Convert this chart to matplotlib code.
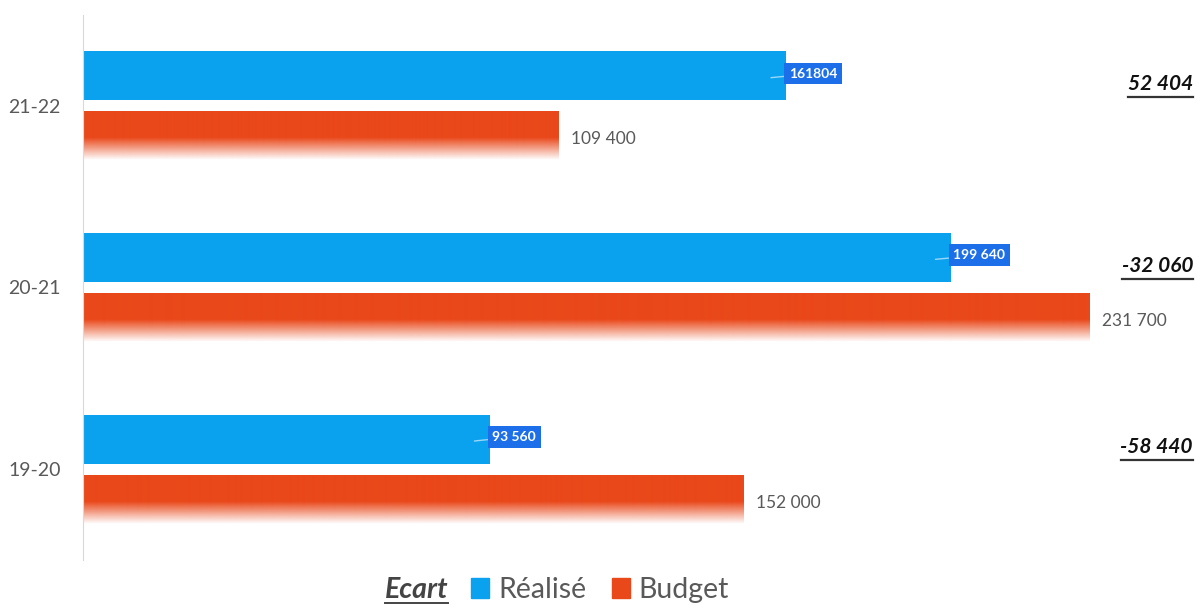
import numpy as np
import matplotlib.pyplot as plt
from matplotlib.patches import Patch
from matplotlib.lines import Line2D

plt.rcParams['font.family'] = ['Lato', 'DejaVu Sans']

categories = ["19-20", "20-21", "21-22"]
realise = [93560, 199640, 161804]
budget = [152000, 231700, 109400]
realise_labels = ["93 560", "199 640", "161804"]
budget_labels = ["152 000", "231 700", "109 400"]


def fmt(v):
    return f"{v:,}".replace(",", " ")


ecart = [r - b for r, b in zip(realise, budget)]

BLUE = "#0aa2ee"
BOX = "#1c6fe8"
ORANGE = "#e9481a"
GREY = "#595959"

fig = plt.figure(figsize=(12.01, 6.08), dpi=100)
ax = fig.add_axes([83 / 1201, 1 - 560 / 608, 1 - 83 / 1201, (560 - 15) / 608])

y = np.arange(len(categories))
h = 0.27
off = 0.165

ax.barh(y + off, realise, height=h, color=BLUE)
obars = ax.barh(y - off, budget, height=h, color="none", edgecolor="none")

# dégradé vers le bas sur les barres budget
n = 100
grad = np.ones((n, 1, 4))
grad[:, 0, :3] = np.array([0xe9, 0x48, 0x1a]) / 255
t = np.linspace(0, 1, n)  # 0 = haut, 1 = bas
grad[:, 0, 3] = np.where(t < 0.55, 1.0, np.clip(1 - (t - 0.55) / 0.45, 0, 1))
for bar in obars:
    x0, y0 = bar.get_x(), bar.get_y()
    w, hh = bar.get_width(), bar.get_height()
    im = ax.imshow(grad, extent=[x0, x0 + w, y0, y0 + hh], aspect="auto",
                   origin="upper", interpolation="bilinear", zorder=2)
    im.set_clip_path(bar)

ax.set_xlim(0, 257250)
ax.set_ylim(-0.5, 2.5)
ax.set_yticks(y)
ax.set_yticklabels(categories, fontsize=14, color=GREY)
ax.tick_params(axis="y", length=0, pad=16)
ax.set_xticks([])
for s in ["top", "right", "bottom"]:
    ax.spines[s].set_visible(False)
ax.spines["left"].set_color("#d9d9d9")

# étiquettes réalisé (bulles)
for yi, v, lab in zip(y, realise, realise_labels):
    ax.annotate(lab, xy=(v - 3500, yi + off - 0.01), xytext=(13, 3),
                textcoords="offset points", ha="left", va="center",
                fontsize=10, fontweight="bold", color="white",
                bbox=dict(boxstyle="square,pad=0.35", fc=BOX, ec="none"),
                arrowprops=dict(arrowstyle="-", color="#9ad6f7", lw=1,
                                shrinkA=0, shrinkB=0))

# étiquettes budget
for yi, v, lab in zip(y, budget, budget_labels):
    ax.annotate(lab, xy=(v, yi - off - 0.02), xytext=(9, 0),
                textcoords="offset points", ha="left", va="center",
                fontsize=12.5, color=GREY)

# écarts à droite
fig.canvas.draw()
renderer = fig.canvas.get_renderer()


def underline(txt, color, lw=1.6, gap=3):
    bb = txt.get_window_extent(renderer)
    inv = fig.transFigure.inverted()
    (x0, y0), (x1, _) = inv.transform([(bb.x0, bb.y0 - gap), (bb.x1, bb.y0)])
    fig.add_artist(Line2D([x0, x1], [y0, y0], color=color, lw=lw,
                          transform=fig.transFigure))


xr = 257250 * (1193 - 83) / (1201 - 83)
for yi, e in zip(y, ecart):
    t_ = ax.text(xr, yi + 0.12, fmt(e), fontsize=15, fontweight="bold",
                 fontstyle="italic", color="#111111", ha="right", va="center")
    fig.canvas.draw()
    underline(t_, "#333333")

# légende
handles = [Patch(color=BLUE, label="Réalisé"), Patch(color=ORANGE, label="Budget")]
leg = fig.legend(handles=handles, loc="center", bbox_to_anchor=(600 / 1201, 1 - 590 / 608),
                 ncol=2, frameon=False, fontsize=20.5, handlelength=0.65, handleheight=0.65,
                 handletextpad=0.3, columnspacing=0.9, labelcolor=GREY)
et = fig.text(448 / 1201, 1 - 590 / 608, "Ecart", fontsize=20.5, fontweight="bold",
              fontstyle="italic", color="#444444", ha="right", va="center")
fig.canvas.draw()
underline(et, "#444444", lw=1.4, gap=0)

fig.savefig("out.png", dpi=100)
